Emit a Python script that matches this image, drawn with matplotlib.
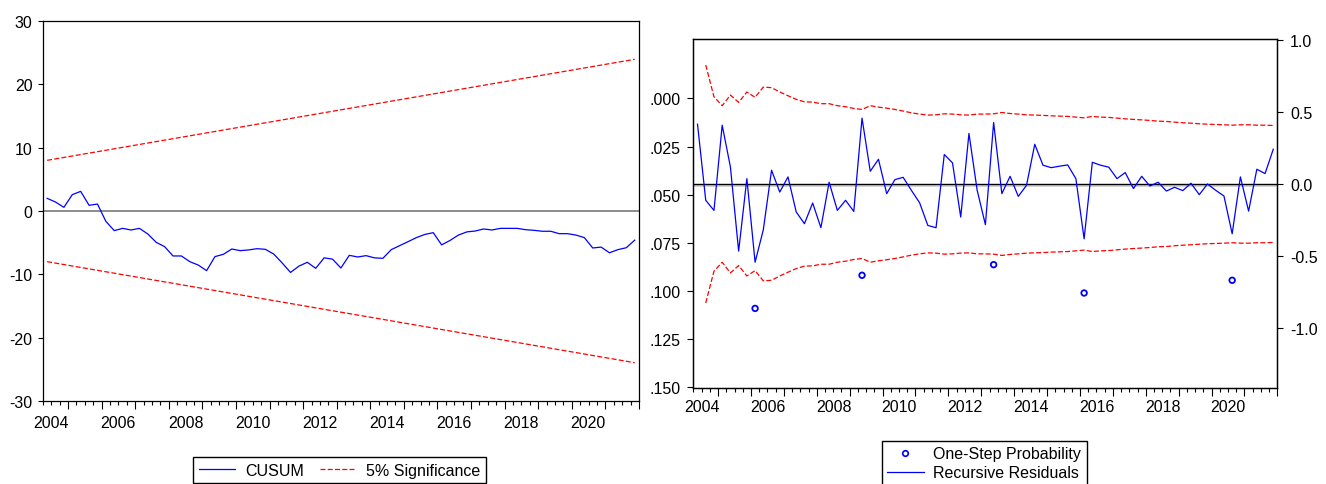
import numpy as np
import pandas as pd
import matplotlib
matplotlib.use("Agg")
import matplotlib.pyplot as plt
from matplotlib.lines import Line2D
from matplotlib.ticker import FixedLocator, NullFormatter

plt.rcParams['font.family'] = ['Liberation Sans', 'DejaVu Sans']

# quarterly sample 2004Q2 - 2021Q4
quarters = pd.period_range("2004Q2", "2021Q4", freq="Q")

cusum = [2.0, 1.42, 0.58, 2.58, 3.1, 0.9, 1.1, -1.63, -3.1, -2.74,
         -3.0, -2.74, -3.63, -4.95, -5.63, -7.1, -7.1, -8.0, -8.53, -9.42,
         -7.2, -6.84, -6.0, -6.26, -6.15, -5.95, -6.05, -6.8, -8.2, -9.7,
         -8.7, -8.1, -9.05, -7.4, -7.6, -9.0, -7.0, -7.26, -7.05, -7.4,
         -7.47, -6.1, -5.47, -4.84, -4.2, -3.7, -3.42, -5.35, -4.65, -3.8,
         -3.3, -3.16, -2.84, -3.0, -2.74, -2.74, -2.74, -2.95, -3.05, -3.2,
         -3.2, -3.58, -3.58, -3.8, -4.2, -5.84, -5.7, -6.6, -6.1, -5.8, -4.6]
# 5% significance bounds (straight lines, first and last observation)
sig_start = 8.0
sig_end = 23.95

resid = [0.414, -0.113, -0.183, 0.407, 0.118, -0.465, 0.037, -0.542, -0.317, 0.095,
         -0.056, 0.049, -0.194, -0.275, -0.132, -0.303, 0.012, -0.183, -0.113, -0.19,
         0.456, 0.088, 0.171, -0.067, 0.030, 0.046, -0.044, -0.13, -0.287, -0.303,
         0.204, 0.146, -0.229, 0.35, -0.044, -0.282, 0.426, -0.067, 0.053, -0.086,
         -0.009, 0.275, 0.13, 0.113, 0.123, 0.132, 0.037, -0.38, 0.15, 0.13,
         0.116, 0.037, 0.079, -0.032, 0.053, -0.014, 0.012, -0.049, -0.023, -0.046,
         0.005, -0.074, 0.0, -0.044, -0.083, -0.345, 0.049, -0.188, 0.102, 0.072, 0.241]
# +/- 2 S.E. band, from the second observation on
band = [0.824, 0.604, 0.542, 0.616, 0.565, 0.637, 0.60, 0.671, 0.667, 0.637,
        0.611, 0.586, 0.569, 0.567, 0.556, 0.556, 0.542, 0.535, 0.523, 0.516,
        0.542, 0.532, 0.525, 0.516, 0.505, 0.493, 0.484, 0.477, 0.479, 0.486,
        0.484, 0.479, 0.477, 0.484, 0.484, 0.486, 0.495, 0.488, 0.484, 0.479,
        0.477, 0.475, 0.472, 0.47, 0.468, 0.463, 0.458, 0.468, 0.463, 0.461,
        0.456, 0.451, 0.447, 0.444, 0.44, 0.435, 0.433, 0.428, 0.424, 0.421,
        0.417, 0.414, 0.412, 0.41, 0.407, 0.41, 0.41, 0.407, 0.407, 0.405]

prob_quarters = ["2006Q1", "2009Q2", "2013Q2", "2016Q1", "2020Q3"]
prob_values = [0.109, 0.0918, 0.0863, 0.101, 0.0944]

year_labels = [2004, 2006, 2008, 2010, 2012, 2014, 2016, 2018, 2020]


def qpos(p):
    # EViews draws each quarter at the middle of its interval
    return p.year + (p.quarter - 1) / 4 + 0.125


x = np.array([qpos(p) for p in quarters])
xp = np.array([qpos(pd.Period(q, freq="Q")) for q in prob_quarters])

BLUE = "#0000ff"
RED = "#ff0000"
FS = 11.5
XMIN, XMAX = 2004.25, 2022.0


def date_axis(ax, label_offset):
    ax.set_xlim(XMIN, XMAX)
    ax.xaxis.set_major_locator(FixedLocator(np.arange(2005, 2023)))
    ax.xaxis.set_minor_locator(FixedLocator(np.arange(XMIN, XMAX + 0.01, 0.25)))
    ax.xaxis.set_major_formatter(NullFormatter())
    ax.tick_params(axis="x", which="major", direction="out", length=5.5, width=0.8)
    ax.tick_params(axis="x", which="minor", direction="out", length=3, width=0.8)
    for yr in year_labels:
        ax.annotate(str(yr), xy=(yr, 0), xycoords=ax.get_xaxis_transform(),
                    xytext=(-1, -label_offset), textcoords="offset pixels",
                    ha="left", va="center", fontsize=FS, annotation_clip=False)


fig = plt.figure(figsize=(13.26, 4.85), dpi=100)

# ---- CUSUM ----
ax1 = fig.add_axes([42.9 / 1326, 1 - 402 / 485, 596 / 1326, 380 / 485])
ax1.plot(x, cusum, color=BLUE, lw=0.9)
ax1.plot([x[0], x[-1]], [sig_start, sig_end], color=RED, lw=0.9, ls=(0, (4, 1.8)))
ax1.plot([x[0], x[-1]], [-sig_start, -sig_end], color=RED, lw=0.9, ls=(0, (4, 1.8)))
ax1.axhline(0, color="#6e6e6e", lw=1.1, zorder=1)
ax1.set_ylim(-30, 30)
ax1.set_yticks([-30, -20, -10, 0, 10, 20, 30])
ax1.set_yticklabels(["-30", "-20", "-10", "0", "10", "20", "30"], fontsize=FS)
ax1.tick_params(axis="y", direction="out", length=3.5, width=0.8, pad=4)
date_axis(ax1, 21)
for s in ax1.spines.values():
    s.set_linewidth(0.9)

h1 = [Line2D([], [], color=BLUE, lw=0.9),
      Line2D([], [], color=RED, lw=0.9, ls=(0, (4, 1.8)))]
fig.legend(h1, ["CUSUM", "5% Significance"], loc="upper left",
           bbox_to_anchor=(193 / 1326, 1 - 458 / 485), ncol=2, fontsize=FS,
           frameon=True, fancybox=False, edgecolor="black", framealpha=1,
           handlelength=2.3, handletextpad=0.6, columnspacing=1.0,
           borderpad=0.35, borderaxespad=0)

# ---- One-step forecast test ----
ax2 = fig.add_axes([693.4 / 1326, 1 - 389 / 485, 584 / 1326, 349 / 485])
ax3 = ax2.twinx()
ax3.axhline(-0.012, color="#cfcfcf", lw=1.3, zorder=1)
ax3.axhline(0, color="black", lw=1.0, zorder=2)
ax3.plot(x, resid, color=BLUE, lw=0.9, zorder=3)
ax3.plot(x[1:], band, color=RED, lw=0.9, ls=(0, (4, 1.8)), zorder=3)
ax3.plot(x[1:], [-b for b in band], color=RED, lw=0.9, ls=(0, (4, 1.8)), zorder=3)
ax3.set_ylim(-1.413, 1.004)
ax3.set_yticks([-1.0, -0.5, 0.0, 0.5, 1.0])
ax3.set_yticklabels(["-1.0", "-0.5", "0.0", "0.5", "1.0"], fontsize=FS)
ax3.tick_params(axis="y", direction="out", length=4, width=0.8, pad=5)

ax2.scatter(xp, prob_values, s=16, facecolors="none", edgecolors=BLUE,
            linewidths=1.3, zorder=4)
ax2.set_ylim(0.1503, -0.0308)
ax2.set_yticks([0.0, 0.025, 0.05, 0.075, 0.1, 0.125, 0.15])
ax2.set_yticklabels([".000", ".025", ".050", ".075", ".100", ".125", ".150"], fontsize=FS)
ax2.tick_params(axis="y", direction="out", length=4, width=0.8, pad=5)
ax2.set_zorder(ax3.get_zorder() + 1)
ax2.patch.set_visible(False)
date_axis(ax2, 18)
for a in (ax2, ax3):
    for s in a.spines.values():
        s.set_linewidth(0.9)

h2 = [Line2D([], [], color=BLUE, marker="o", ls="none", markersize=4,
             markerfacecolor="none", markeredgewidth=1.2),
      Line2D([], [], color=BLUE, lw=0.9)]
fig.legend(h2, ["One-Step Probability", "Recursive Residuals"], loc="upper left",
           bbox_to_anchor=(881.5 / 1326, 1 - 441.7 / 485), ncol=1, fontsize=FS,
           frameon=True, fancybox=False, edgecolor="black", framealpha=1,
           handlelength=2.3, handletextpad=0.6, labelspacing=0.25,
           borderpad=0.35, borderaxespad=0)

fig.savefig("out.png", dpi=100)
